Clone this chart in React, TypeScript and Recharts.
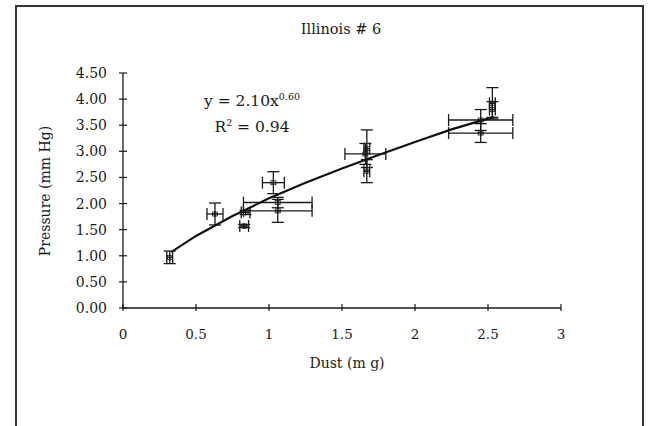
import React from 'react';
import { ScatterChart, Scatter, XAxis, YAxis, ErrorBar } from 'recharts';

// measured points (x = dust mg, y = pressure mmHg) with x / y error half-widths
const dustValues = [0.32, 0.63, 0.83, 0.84, 1.03, 1.06, 1.06, 1.66, 1.67, 1.67, 2.45, 2.45, 2.53, 2.53];
const pressureValues = [0.97, 1.8, 1.57, 1.83, 2.4, 2.02, 1.86, 2.95, 3.05, 2.62, 3.6, 3.35, 3.92, 3.8];
const dustErrors = [0.02, 0.055, 0.03, 0.03, 0.075, 0.235, 0.235, 0.14, 0.02, 0.02, 0.22, 0.22, 0.02, 0.02];
const pressureErrors = [0.12, 0.21, 0.03, 0.04, 0.21, 0.1, 0.22, 0.2, 0.36, 0.22, 0.2, 0.18, 0.3, 0.15];

// power-law trend curve
const curveX = [0.33, 0.5, 0.75, 1.0, 1.25, 1.5, 1.75, 2.0, 2.25, 2.54];
const curveY = [1.07, 1.38, 1.76, 2.1, 2.4, 2.67, 2.93, 3.18, 3.42, 3.66];

const xTicks = [0, 0.5, 1, 1.5, 2, 2.5, 3];
const yTicks = [0, 0.5, 1, 1.5, 2, 2.5, 3, 3.5, 4, 4.5];

const points = dustValues.map((x, i) => ({
    x,
    y: pressureValues[i],
    ex: dustErrors[i],
    ey: pressureErrors[i],
}));
const curve = curveX.map((x, i) => ({ x, y: curveY[i] }));

const FONT = '"DejaVu Serif", serif';
const INK = '#1a1a1a';

const XTick = (props: any) => {
    const { x, y, payload } = props;
    return (
        <g>
            <line x1={x} x2={x} y1={y - 4} y2={y + 3} stroke={INK} strokeWidth={1.2} />
            <text x={x} y={y + 31} textAnchor="middle" fontFamily={FONT} fontSize={13.5} fill={INK}>
                {payload.value}
            </text>
        </g>
    );
};

const YTick = (props: any) => {
    const { x, y, payload } = props;
    return (
        <g>
            <line x1={x - 4} x2={x + 4} y1={y} y2={y} stroke={INK} strokeWidth={1.2} />
            <text x={x - 16} y={y + 5} textAnchor="end" fontFamily={FONT} fontSize={14} fill={INK}>
                {Number(payload.value).toFixed(2)}
            </text>
        </g>
    );
};

const Marker = (props: any) => {
    const { cx, cy } = props;
    if (cx == null || cy == null) return <g />;
    return (
        <g stroke={INK} strokeWidth={1.3} fill="none">
            <line x1={cx - 3} x2={cx + 3} y1={cy} y2={cy} />
            <line x1={cx} x2={cx} y1={cy - 3} y2={cy + 3} />
            <rect x={cx - 2.5} y={cy - 2} width={5} height={4} strokeWidth={0.8} />
        </g>
    );
};

export default function App() {
    return (
        <div style={{ position: 'fixed', left: 0, top: 0, width: 657, height: 426, overflow: 'hidden', background: '#fff' }}>
            <style>{'html, body { overflow: hidden; }'}</style>
            <svg width={657} height={426} style={{ position: 'absolute', left: 0, top: 0 }}>
                <rect x={16} y={6} width={627} height={440} fill="none" stroke="#333" strokeWidth={2} />
            </svg>
            <ScatterChart
                width={657}
                height={426}
                margin={{ top: 73, right: 96, bottom: 88, left: 63 }}
                style={{ position: 'absolute', left: 0, top: 0 }}
            >
                <XAxis
                    type="number"
                    dataKey="x"
                    domain={[0, 3]}
                    ticks={xTicks}
                    interval={0}
                    height={30}
                    tickSize={0}
                    tickMargin={0}
                    tickLine={false}
                    tick={<XTick />}
                    axisLine={{ stroke: INK, strokeWidth: 1.3 }}
                />
                <YAxis
                    type="number"
                    dataKey="y"
                    domain={[0, 4.5]}
                    ticks={yTicks}
                    interval={0}
                    width={60}
                    tickSize={0}
                    tickMargin={0}
                    tickLine={false}
                    tick={<YTick />}
                    axisLine={{ stroke: INK, strokeWidth: 1.3 }}
                />
                <Scatter
                    data={curve}
                    line={{ stroke: '#111', strokeWidth: 2.2 }}
                    shape={() => <g />}
                    isAnimationActive={false}
                />
                <Scatter data={points} shape={<Marker />} isAnimationActive={false}>
                    <ErrorBar dataKey="ex" direction="x" width={6} stroke={INK} strokeWidth={1.3} />
                    <ErrorBar dataKey="ey" direction="y" width={6} stroke={INK} strokeWidth={1.3} />
                </Scatter>
            </ScatterChart>
            <div style={{ position: 'absolute', left: 241, top: 21, width: 200, textAlign: 'center', fontFamily: FONT, fontSize: 14.5, color: INK }}>
                Illinois # 6
            </div>
            <div style={{ position: 'absolute', left: 177, top: 86, width: 150, textAlign: 'center', fontFamily: FONT, fontSize: 15.5, color: INK, lineHeight: '22px' }}>
                <div>
                    y = 2.10x<sup style={{ fontSize: 9.5 }}>0.60</sup>
                </div>
                <div>
                    R<sup style={{ fontSize: 9.5 }}>2</sup> = 0.94
                </div>
            </div>
            <div style={{ position: 'absolute', left: 247, top: 355, width: 200, textAlign: 'center', fontFamily: FONT, fontSize: 14, color: INK }}>
                Dust (m g)
            </div>
            <div
                style={{
                    position: 'absolute',
                    left: -35,
                    top: 183,
                    width: 160,
                    textAlign: 'center',
                    fontFamily: FONT,
                    fontSize: 14,
                    color: INK,
                    transform: 'rotate(-90deg)',
                }}
            >
                Pressure (mm Hg)
            </div>
        </div>
    );
}
